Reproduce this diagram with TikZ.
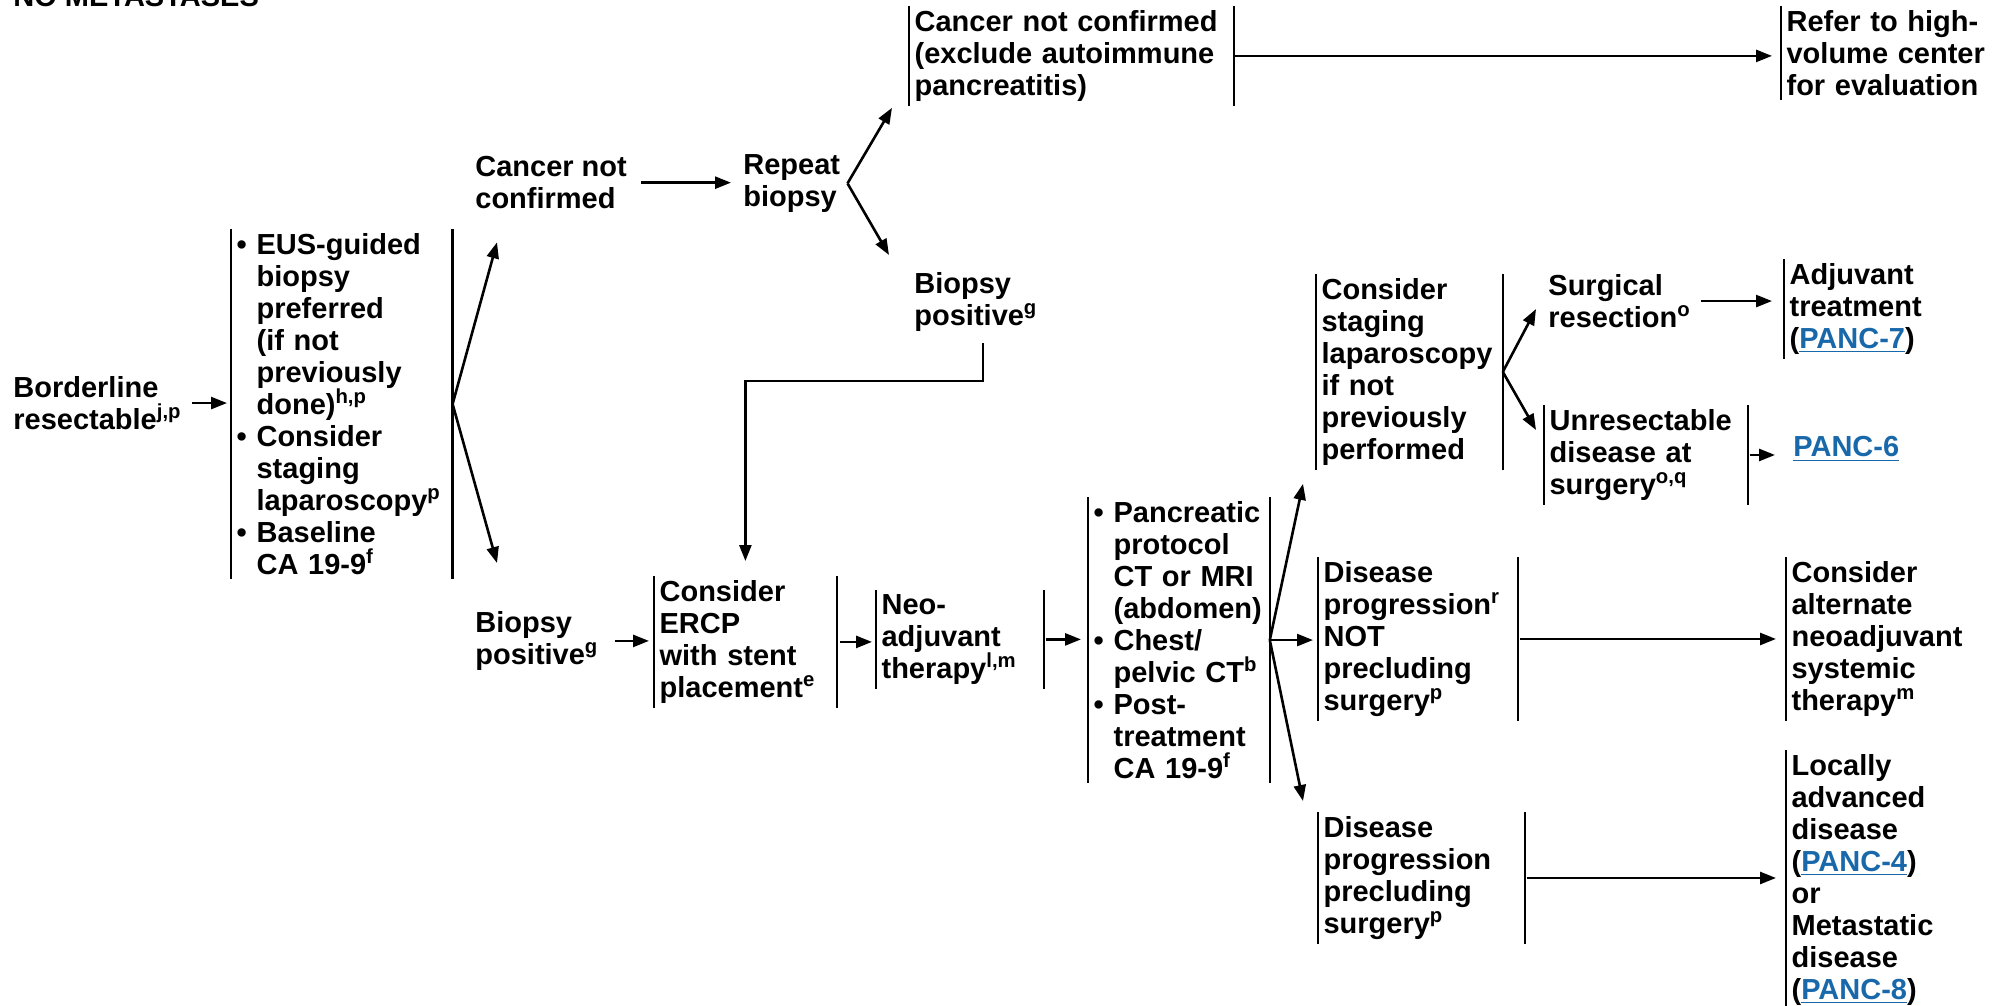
\documentclass[tikz,border=0pt]{standalone}
\usepackage{fontspec}
\setmainfont{Liberation Sans}
\usepackage{xcolor}
\usepackage{tikz}
\usetikzlibrary{arrows.meta,calc,positioning}
\definecolor{linkblue}{RGB}{25,105,170}
\newcommand{\bulitem}{\makebox[10pt][l]{\textbullet}}
\newcommand{\bulind}{\hspace*{10pt}}
\newcommand{\panclink}[1]{\textcolor{linkblue}{\underline{PANC-#1}}}

\begin{document}
\begin{tikzpicture}[
    x=0.5pt, y=-0.5pt,
    font={\fontsize{14.5}{16}\selectfont\bfseries},
    execute at begin node={\hyphenpenalty=10000\exhyphenpenalty=10000},
    txt/.style={anchor=north west, inner sep=0, align=left},
    bx/.style={anchor=north west, inner xsep=2.6pt, inner ysep=2pt, align=left, text width=#1},
    bar/.style={line width=1.3pt},
    arr/.style={line width=1.3pt, -{Triangle[length=8pt, width=6pt]}}]
\useasboundingbox (0,0) rectangle (1999,1006);

\node[txt, anchor=base west] (nomet) at (13,7) {NO METASTASES};
\node[txt] (border) at (13,376) {Borderline\\resectable\textsuperscript{j,p}};
\node[bx=105.2pt] (eus) at (231,229) {\bulitem EUS-guided\\ \bulind biopsy\\ \bulind preferred\\ \bulind (if not\\ \bulind previously\\ \bulind done)\textsuperscript{h,p}\\ \bulitem Consider\\ \bulind staging\\ \bulind laparoscopy\textsuperscript{p}\\ \bulitem Baseline\\ \bulind CA 19-9\textsuperscript{f}};

\node[txt] (cnc1) at (475,156) {Cancer not\\confirmed};
\node[txt] (rep) at (743,154) {Repeat\\biopsy};
\node[bx=156.8pt] (cnc) at (909,6) {Cancer not confirmed\\(exclude autoimmune\\pancreatitis)};
\node[bx=104pt] (refer) at (1781,6) {Refer to high-\\volume center\\for evaluation};
\node[txt] (bpos1) at (914,272) {Biopsy\\positive\textsuperscript{g}};
\node[txt] (bpos2) at (475,611) {Biopsy\\positive\textsuperscript{g}};

\node[bx=85.8pt] (ercp) at (654,576) {Consider\\ERCP\\with stent\\placement\textsuperscript{e}};
\node[bx=78.3pt] (neo) at (876,590) {Neo-\\adjuvant\\therapy\textsuperscript{l,m}};
\node[bx=85.3pt] (scan) at (1088,497) {\bulitem Pancreatic\\ \bulind protocol\\ \bulind CT or MRI\\ \bulind (abdomen)\\ \bulitem Chest/\\ \bulind pelvic CT\textsuperscript{b}\\ \bulitem Post-\\ \bulind treatment\\ \bulind CA 19-9\textsuperscript{f}};

\node[bx=87.8pt] (lap) at (1316,274) {Consider\\staging\\laparoscopy\\if not\\previously\\performed};
\node[txt] (surg) at (1548,274) {Surgical\\resection\textsuperscript{o}};
\node[bx=100pt] (adj) at (1784,259) {Adjuvant\\treatment\\(\panclink{7})};
\node[bx=96.3pt] (unres) at (1544,405) {Unresectable\\disease at\\surgery\textsuperscript{o,q}};
\node[anchor=west, inner sep=0] (panc6) at (1793,449) {\panclink{6}};

\node[bx=94.3pt] (nprog) at (1318,557) {Disease\\progression\textsuperscript{r}\\NOT\\precluding\\surgery\textsuperscript{p}};
\node[bx=100pt] (alt) at (1786,557) {Consider\\alternate\\neoadjuvant\\systemic\\therapy\textsuperscript{m}};
\node[bx=97.8pt] (prog) at (1318,812) {Disease\\progression\\precluding\\surgery\textsuperscript{p}};
\node[bx=100pt] (adv) at (1786,750) {Locally\\advanced\\disease\\(\panclink{4})\\or\\Metastatic\\disease\\(\panclink{8})};

% side bars
\foreach \n in {eus,cnc,ercp,neo,scan,lap,unres,nprog,prog}
  \path[draw, bar] (\n.north west) -- (\n.south west) (\n.north east) -- (\n.south east);
\foreach \n in {refer,adj,alt,adv}
  \path[draw, bar] (\n.north west) -- (\n.south west);

% arrows
\path[draw, arr] ([xshift=5pt]border.east) -- ([xshift=-2pt]border.east -| eus.west);
\path[draw, arr] (eus.east) -- ([xshift=11pt, yshift=-16.5pt]cnc1.south west);
\path[draw, arr] (eus.east) -- ([xshift=11pt, yshift=24pt]bpos2.north west);
\path[draw, arr] ([xshift=7pt]cnc1.east) -- ([xshift=-6pt]cnc1.east -| rep.west);
\path[draw, arr] ([xshift=3.5pt]rep.east) -- ([xshift=-8.5pt, yshift=-1pt]cnc.south west);
\path[draw, arr] ([xshift=3.5pt]rep.east) -- ([xshift=-12.5pt, yshift=8.5pt]bpos1.north west);
\path[draw, arr] (cnc.east) -- ([xshift=-4.5pt]cnc.east -| refer.west);
\path[draw, arr] ([xshift=3.5pt, yshift=-5.5pt]bpos1.south) -- ++(0,-19pt) -| ([yshift=7.5pt]ercp.north);
\path[draw, arr] ([xshift=8pt]bpos2.east) -- ([xshift=-2.5pt]bpos2.east -| ercp.west);
\path[draw, arr] ([xshift=1.5pt]ercp.east) -- ([xshift=-2pt]ercp.east -| neo.west);
\path[draw, arr] ([xshift=1pt]neo.east) -- ([xshift=-3.5pt]neo.east -| scan.west);
\path[draw, arr] (scan.east) -- ([xshift=-6.5pt, yshift=-7pt]lap.south west);
\path[draw, arr] (scan.east) -- ([xshift=-2.5pt]scan.east -| nprog.west);
\path[draw, arr] (scan.east) -- ([xshift=-7.5pt, yshift=5.5pt]prog.north west);
\path[draw, arr] (lap.east) -- ([xshift=-6pt, yshift=-4pt]surg.west);
\path[draw, arr] (lap.east) -- ([xshift=-4pt, yshift=-12.5pt]unres.north west);
\path[draw, arr] ([xshift=5pt]surg.east) -- ([xshift=-6pt]surg.east -| adj.west);
\path[draw, arr] ([xshift=1pt]unres.east) -- ([xshift=-9pt]unres.east -| panc6.west);
\path[draw, arr] ([xshift=1pt]nprog.east) -- ([xshift=-5pt]nprog.east -| alt.west);
\path[draw, arr] ([xshift=1pt]prog.east) -- ([xshift=-5pt]prog.east -| adv.west);

\end{tikzpicture}
\end{document}
